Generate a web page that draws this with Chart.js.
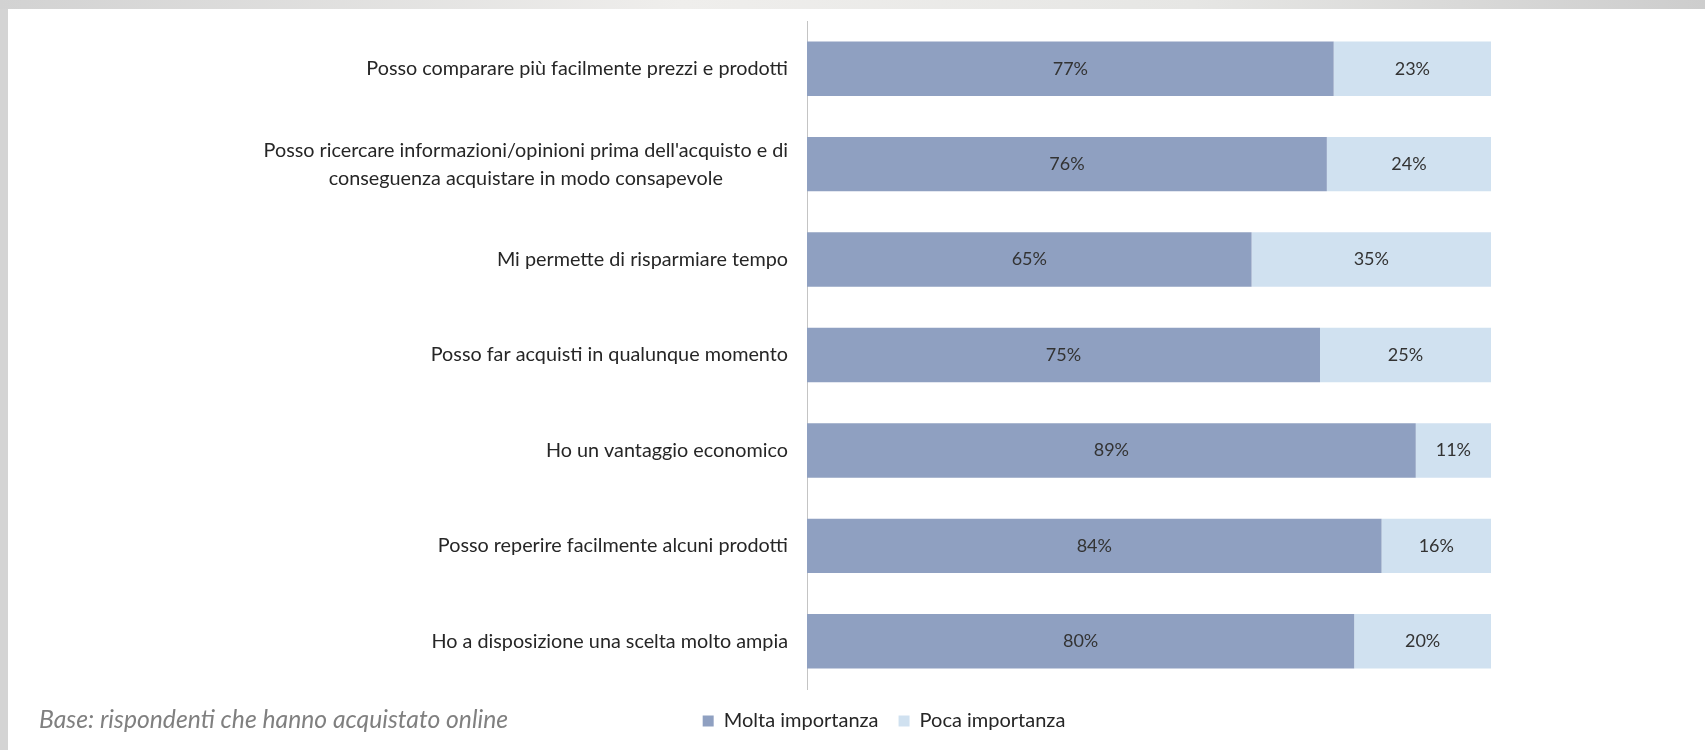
<!DOCTYPE html>
<html>
<head>
<meta charset="utf-8">
<script src="https://cdn.jsdelivr.net/npm/chart.js@4.4.1/dist/chart.umd.min.js"></script>
<style>
  html, body { margin: 0; padding: 0; }
  body {
    width: 1705px; height: 750px; overflow: hidden; position: relative;
    background: #d4d4d4;
  }
  #topbar {
    position: absolute; left: 0; top: 0; width: 1705px; height: 9px;
    background: linear-gradient(to right, #d2d2d2 0%, #efeeec 40%, #e6e6e4 70%, #cdcdcd 100%);
  }
  #panel {
    position: absolute; left: 8px; top: 9px; width: 1697px; height: 741px;
    background: #ffffff;
  }
  #note {
    position: absolute; left: 39px; top: 704px;
    font-family: Lato, sans-serif; font-style: italic; font-size: 24.7px;
    color: #808080; white-space: nowrap;
  }
</style>
</head>
<body>
<div id="topbar"></div>
<div id="panel"><canvas id="myChart" width="1697" height="741"></canvas></div>
<div id="note">Base: rispondenti che hanno acquistato online</div>
<script>
var categories = [
  'Posso comparare più facilmente prezzi e prodotti',
  ["Posso ricercare informazioni/opinioni prima dell'acquisto e di", 'conseguenza acquistare in modo consapevole'],
  'Mi permette di risparmiare tempo',
  'Posso far acquisti in qualunque momento',
  'Ho un vantaggio economico',
  'Posso reperire facilmente alcuni prodotti',
  'Ho a disposizione una scelta molto ampia'
];
var molta = [77, 76, 65, 75, 89, 84, 80];
var poca = [23, 24, 35, 25, 11, 16, 20];

var LABEL_FONT = '19.8px Lato';
var VALUE_FONT = '18px Lato';

// category labels: block right-aligned, lines centred inside the block
var categoryLabels = {
  id: 'categoryLabels',
  afterDraw: function(chart) {
    var ctx = chart.ctx;
    var yScale = chart.scales.y;
    var right = chart.chartArea.left - 19;
    ctx.save();
    ctx.font = LABEL_FONT;
    ctx.fillStyle = '#262626';
    ctx.textAlign = 'center';
    ctx.textBaseline = 'middle';
    categories.forEach(function(label, i) {
      var lines = Array.isArray(label) ? label : [label];
      var maxW = 0;
      lines.forEach(function(l) { maxW = Math.max(maxW, ctx.measureText(l).width); });
      var y = yScale.getPixelForValue(i);
      var lh = 28;
      var y0 = y - (lines.length - 1) * lh / 2;
      lines.forEach(function(l, k) {
        ctx.fillText(l, right - maxW / 2, y0 + k * lh);
      });
    });
    ctx.restore();
  }
};

// percentage labels in the middle of each segment
var valueLabels = {
  id: 'valueLabels',
  afterDatasetsDraw: function(chart) {
    var ctx = chart.ctx;
    ctx.save();
    ctx.font = VALUE_FONT;
    ctx.fillStyle = '#333333';
    ctx.textAlign = 'center';
    ctx.textBaseline = 'middle';
    chart.data.datasets.forEach(function(ds, d) {
      chart.getDatasetMeta(d).data.forEach(function(bar, i) {
        var p = bar.getCenterPoint();
        ctx.fillText(ds.data[i] + '%', p.x, p.y);
      });
    });
    ctx.restore();
  }
};

var ctx = document.getElementById('myChart');
var myChart = new Chart(ctx, {
  type: 'bar',
  data: {
    labels: categories,
    datasets: [
      {
        label: 'Molta importanza',
        data: molta,
        backgroundColor: '#8fa0c1',
        borderWidth: 0,
        barPercentage: 0.57,
        categoryPercentage: 1.0
      }, {
        label: 'Poca importanza',
        data: poca,
        backgroundColor: '#d0e1f0',
        borderWidth: 0,
        barPercentage: 0.57,
        categoryPercentage: 1.0
      }
    ]
  },
  options: {
    indexAxis: 'y',
    responsive: false,
    animation: false,
    layout: { padding: { left: 269, right: 214, top: 12, bottom: 9 } },
    scales: {
      x: {
        stacked: true,
        min: 0,
        max: 100,
        grid: { display: false },
        border: { display: false },
        ticks: { display: false },
        afterFit: function(scale) { scale.height = 2; }
      },
      y: {
        stacked: true,
        grid: { display: false },
        border: { color: '#c4c4c4', width: 1 },
        ticks: { display: false },
        afterFit: function(scale) { scale.width = 530; }
      }
    },
    plugins: {
      legend: {
        position: 'bottom',
        labels: {
          boxWidth: 11,
          boxHeight: 11,
          padding: 20,
          color: '#262626',
          font: { family: 'Lato', size: 20 }
        }
      },
      tooltip: { enabled: false }
    }
  },
  plugins: [categoryLabels, valueLabels]
});
</script>
</body>
</html>
